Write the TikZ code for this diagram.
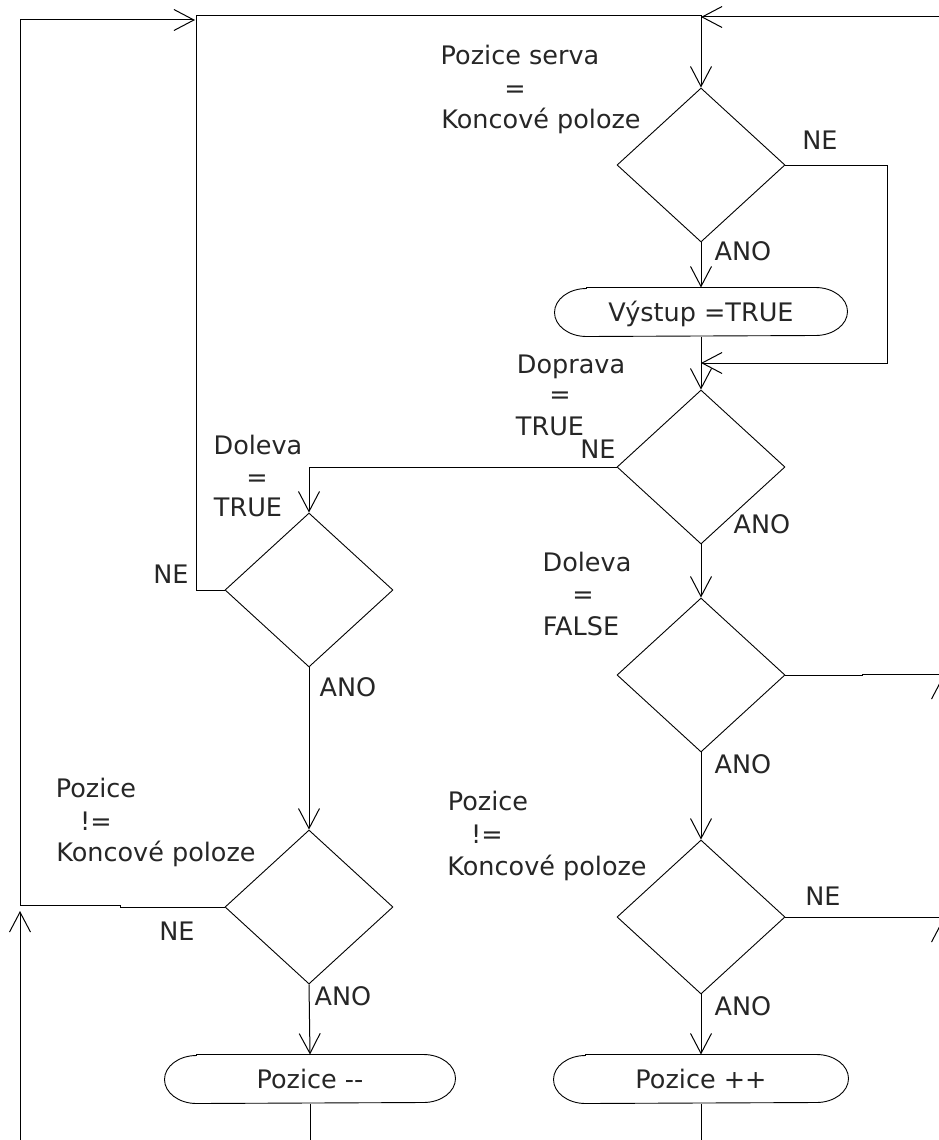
\documentclass[tikz,border=0pt]{standalone}
\usepackage{fontspec}
\setmainfont{DejaVu Sans}
\usetikzlibrary{shapes.geometric,arrows.meta}

\newcommand{\lblfont}{\fontsize{25.5}{30}\selectfont}
% outline of a terminator: straight top and bottom, half-ellipse ends
\newcommand{\termoutline}[1]{%
  \draw[line width=0.9pt] ([xshift=32pt]#1.north west) -- ([xshift=-32pt]#1.north east)
    arc[start angle=90, end angle=-90, x radius=32pt, y radius=24pt]
    -- ([xshift=32pt]#1.south west)
    arc[start angle=270, end angle=90, x radius=32pt, y radius=24pt] -- cycle;}

\begin{document}
\begin{tikzpicture}[x=1pt, y=-1pt, line width=1pt,
  dec/.style={diamond, draw, line width=0.9pt, minimum width=168pt, minimum height=154pt,
              inner sep=0pt, aspect=1.09},
  term/.style={minimum width=#1, minimum height=48pt, inner sep=0pt, font=\lblfont,
               text=black!85, text height=18.5pt, text depth=0pt},
  lbl/.style={anchor=base, inner sep=0pt, font=\lblfont, text=black!85},
  arr/.style={-{Straight Barb[length=20pt, width=21pt]}},
]
\useasboundingbox (0,0) rectangle (939,1140);
\clip (0,0) rectangle (939,1140);

% decisions
\node[dec] (d1) at (701,165) {};
\node[dec] (d2) at (701,467) {};
\node[dec] (d3) at (309,590) {};
\node[dec] (d4) at (701,675) {};
\node[dec] (d5) at (309,907) {};
\node[dec] (d6) at (701,917) {};

% actions
\node[term=292pt] (t1) at (701,312) {Výstup =TRUE};
\node[term=290pt] (t2) at (310,1079) {Pozice -{}-};
\node[term=294pt] (t3) at (701,1079) {Pozice ++};
\termoutline{t1}
\termoutline{t2}
\termoutline{t3}

% loose ends leaving the page
\coordinate (cTL) at (196,16);
\coordinate (cLoop) at (195,20);
\coordinate (rin) at (950,17);
\coordinate (lin) at (20,1150);
\coordinate (b2) at (310,1150);
\coordinate (b3) at (701,1150);
\coordinate (r4) at (950,675);
\coordinate (r6) at (950,917);
\coordinate (up4a) at (942,740);
\coordinate (up4b) at (942,678);
\coordinate (up6a) at (942,980);
\coordinate (up6b) at (942,921);

% connectors
\draw[arr] (d3.west) -| (cTL) -| (d1.north);
\draw[arr] (rin) -- (rin -| d1.north);
\draw[arr] (d1.south) -- (t1.north);
\draw[arr] (d1.east) -- (887,165) -- (887,363) -- (701,363);
\draw[arr] (t1.south) -- (d2.north);
\draw[arr] (d2.west) -| (d3.north);
\draw[arr] (d2.south) -- (d4.north);
\draw[arr] (d3.south) -- (d5.north);
\draw[arr] (d5.west) -- (120,907) |- (20,905) -- (20,20) -- (cLoop);
\draw[arr] (lin) -- (20,911);
\draw[arr] (d5.south) -- (t2.north);
\draw[arr] (d4.south) -- (d6.north);
\draw[arr] (d6.south) -- (t3.north);
\draw (t2.south) -- (b2);
\draw (t3.south) -- (b3);
\draw (d4.east) -- (862,675) -- (862,674) -- (r4 |- 0,674);
\draw (d6.east) -- (r6);
\draw[arr] (up4a) -- (up4b);
\draw[arr] (up6a) -- (up6b);

% conditions
\node[lbl] (c1a) at (520,65) {Pozice serva};
\node[lbl] (c1b) at (515,97) {=};
\node[lbl] (c1c) at (541,128) {Koncové poloze};
\node[lbl] (c2a) at (571,373) {Doprava};
\node[lbl] (c2b) at (560,403) {=};
\node[lbl] (c2c) at (550,435) {TRUE};
\node[lbl] (c3a) at (258,454) {Doleva};
\node[lbl] (c3b) at (257,486) {=};
\node[lbl] (c3c) at (248,516) {TRUE};
\node[lbl] (c4a) at (587,571) {Doleva};
\node[lbl] (c4b) at (583,603) {=};
\node[lbl] (c4c) at (581,635) {FALSE};
\node[lbl] (c5a) at (96,797) {Pozice};
\node[lbl] (c5b) at (96,830) {!=};
\node[lbl] (c5c) at (156,861) {Koncové poloze};
\node[lbl] (c6a) at (488,810) {Pozice};
\node[lbl] (c6b) at (487,843) {!=};
\node[lbl] (c6c) at (547,875) {Koncové poloze};

% branch labels
\node[lbl] (n1) at (820,149) {NE};
\node[lbl] (a1) at (743,260) {ANO};
\node[lbl] (n2) at (598,458) {NE};
\node[lbl] (a2) at (762,533) {ANO};
\node[lbl] (n3) at (171,583) {NE};
\node[lbl] (a3) at (348,696) {ANO};
\node[lbl] (a4) at (743,773) {ANO};
\node[lbl] (n5) at (177,940) {NE};
\node[lbl] (a5) at (343,1005) {ANO};
\node[lbl] (n6) at (823,905) {NE};
\node[lbl] (a6) at (743,1015) {ANO};
\end{tikzpicture}
\end{document}
